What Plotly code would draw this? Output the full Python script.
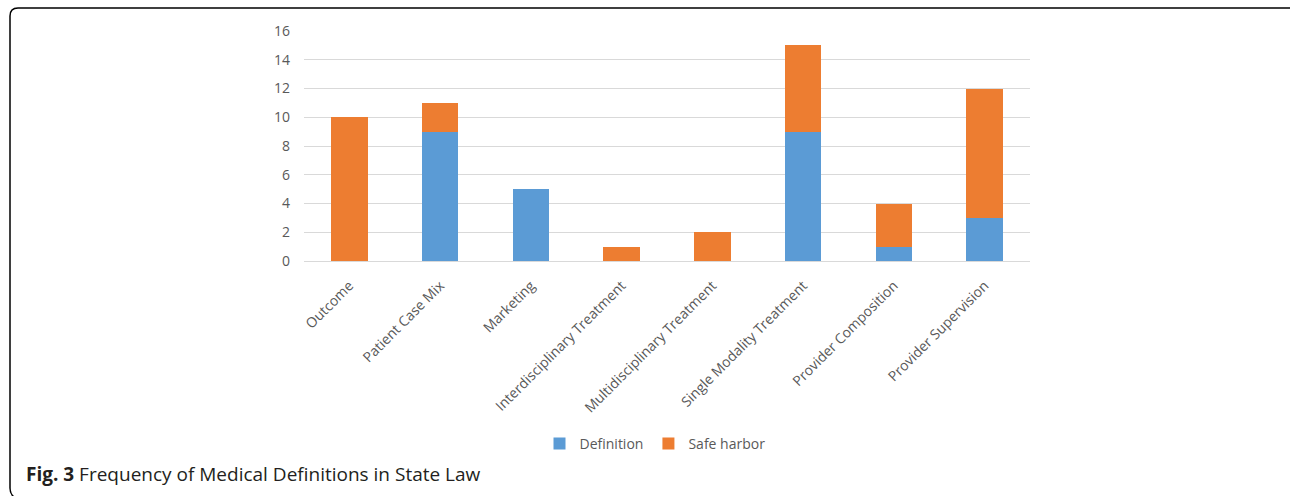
import plotly.graph_objects as go

categories = ["Outcome", "Patient Case Mix", "Marketing", "Interdisciplinary Treatment",
              "Multidisciplinary Treatment", "Single Modality Treatment",
              "Provider Composition", "Provider Supervision"]
definition = [0, 9, 5, 0, 0, 9, 1, 3]
safe_harbor = [10, 2, 0, 1, 2, 6, 3, 9]
y_ticks = [0, 2, 4, 6, 8, 10, 12, 14, 16]

W, H = 1290, 496
L, R, T, B = 304, 260, 31, 235
PW, PH = W - L - R, H - T - B


def px_x(x):
    return (x - L) / PW


def px_y(y):
    return 1 - (y - T) / PH


fig = go.Figure()
fig.add_bar(x=categories, y=definition, name="Definition", marker_color="#5B9BD5",
            marker_line_width=0)
fig.add_bar(x=categories, y=safe_harbor, name="Safe harbor", marker_color="#ED7D31",
            marker_line_width=0)

fig.update_layout(
    barmode="stack", bargap=0.6,
    width=W, height=H, autosize=False,
    margin=dict(l=L, r=R, t=T, b=B),
    paper_bgcolor="white", plot_bgcolor="white",
    font=dict(family="Open Sans", size=14, color="#595959"),
    showlegend=True,
    legend=dict(orientation="h", x=px_x(655), xanchor="center",
                y=px_y(444), yanchor="middle",
                font=dict(size=14, color="#595959"), traceorder="normal",
                itemwidth=30),
    xaxis=dict(tickangle=-45, showgrid=False, showline=True, linecolor="#d9d9d9",
               linewidth=1, ticks="", automargin=False, ticklabelstandoff=10,
               tickfont=dict(size=14, color="#595959")),
    yaxis=dict(range=[0, 16], tickvals=y_ticks, showgrid=True, gridcolor="#d9d9d9",
               gridwidth=1, zeroline=False, ticks="", automargin=False,
               ticklabelstandoff=13,
               tickfont=dict(size=14, color="#595959")),
)

# Figure frame
fig.add_shape(type="path", xref="paper", yref="paper",
              path=" ".join([
                  "M", f"{px_x(1290)},{px_y(8)}",
                  "L", f"{px_x(18)},{px_y(8)}",
                  "Q", f"{px_x(10)},{px_y(8)}", f"{px_x(10)},{px_y(16)}",
                  "L", f"{px_x(10)},{px_y(488)}",
                  "Q", f"{px_x(10)},{px_y(494)}", f"{px_x(14)},{px_y(497)}",
              ]),
              line=dict(color="black", width=1.5))

# Caption
fig.add_annotation(xref="paper", yref="paper",
                   x=px_x(24), y=px_y(474),
                   xanchor="left", yanchor="middle", showarrow=False,
                   text="<b>Fig. 3</b> Frequency of Medical Definitions in State Law",
                   font=dict(family="Open Sans", size=19, color="#231f20"))

fig.write_html("out.html")
